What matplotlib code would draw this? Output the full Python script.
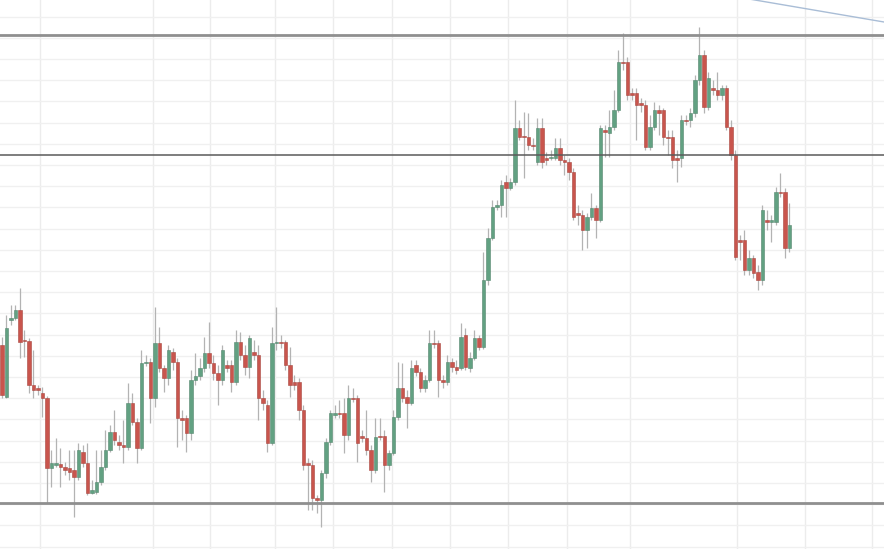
import matplotlib
matplotlib.use("Agg")
import matplotlib.pyplot as plt
import numpy as np

# candle data (price units)
opens = [205, 153, 230, 232, 240, 210, 209, 165, 162, 157, 152, 82, 85, 86, 83, 82, 80, 73, 98, 87,
         57, 58, 68, 83, 100, 118, 108, 105, 103, 147, 128, 102, 187, 188, 152, 207, 182, 172, 198, 188,
         132, 132, 117, 170, 174, 182, 197, 187, 177, 170, 185, 185, 168, 208, 195, 183, 198, 195, 152, 145,
         107, 207, 208, 208, 185, 168, 168, 140, 87, 85, 52, 50, 77, 108, 135, 137, 137, 115, 152, 152,
         114, 112, 100, 80, 114, 114, 85, 97, 133, 162, 153, 147, 185, 178, 162, 170, 207, 207, 170, 168,
         188, 183, 182, 215, 182, 192, 212, 203, 270, 312, 343, 345, 368, 362, 368, 422, 414, 413, 405, 388,
         422, 392, 392, 392, 402, 390, 388, 378, 337, 335, 320, 333, 342, 330, 420, 417, 423, 440, 488, 488,
         457, 457, 447, 445, 403, 423, 440, 440, 413, 413, 392, 392, 430, 430, 437, 470, 495, 443, 462, 460,
         455, 462, 423, 395, 310, 310, 280, 292, 278, 270, 330, 328, 328, 358, 358, 302]
highs = [213, 235, 245, 245, 262, 220, 212, 200, 165, 163, 154, 100, 112, 102, 88, 100, 100, 107, 105, 107,
         70, 100, 100, 120, 125, 140, 115, 130, 167, 157, 132, 200, 195, 192, 243, 223, 185, 205, 202, 192,
         140, 135, 180, 197, 192, 213, 228, 195, 185, 205, 190, 190, 220, 218, 205, 215, 210, 205, 160, 150,
         223, 243, 215, 210, 203, 175, 172, 145, 92, 90, 55, 80, 112, 140, 145, 150, 152, 165, 162, 155,
         120, 140, 105, 132, 132, 120, 100, 140, 188, 187, 160, 190, 190, 182, 175, 220, 220, 210, 175, 195,
         192, 190, 227, 222, 198, 220, 215, 298, 322, 350, 350, 370, 375, 372, 450, 430, 438, 437, 412, 432,
         432, 398, 400, 412, 412, 395, 392, 382, 345, 340, 337, 357, 345, 425, 425, 440, 460, 500, 517, 493,
         462, 462, 452, 450, 435, 448, 445, 442, 420, 420, 400, 435, 435, 442, 475, 523, 500, 478, 470, 478,
         465, 465, 430, 400, 315, 320, 300, 295, 285, 345, 340, 335, 363, 377, 362, 347]
lows = [152, 152, 225, 230, 192, 193, 157, 152, 155, 133, 47, 63, 83, 63, 75, 70, 33, 70, 83, 55,
        56, 56, 65, 80, 98, 105, 100, 87, 100, 125, 87, 100, 184, 127, 143, 178, 158, 165, 180, 103,
        110, 98, 110, 165, 170, 178, 182, 170, 145, 165, 178, 158, 165, 190, 175, 172, 190, 130, 140, 98,
        105, 200, 202, 180, 153, 160, 130, 80, 40, 40, 37, 23, 72, 105, 132, 132, 97, 110, 148, 88,
        108, 95, 68, 77, 110, 58, 80, 95, 130, 148, 122, 145, 174, 158, 158, 168, 202, 153, 162, 165,
        178, 176, 180, 180, 178, 190, 200, 201, 265, 310, 340, 333, 333, 360, 365, 410, 372, 400, 400, 385,
        382, 385, 390, 390, 385, 375, 370, 330, 325, 300, 302, 330, 312, 328, 393, 393, 420, 438, 480, 450,
        450, 410, 438, 400, 400, 420, 415, 405, 395, 382, 368, 383, 425, 423, 433, 465, 437, 440, 455, 450,
        450, 420, 390, 290, 290, 275, 275, 272, 260, 265, 320, 308, 325, 353, 292, 298]
closes = [155, 222, 232, 240, 208, 209, 165, 160, 160, 152, 82, 87, 87, 83, 80, 78, 73, 100, 87, 57,
          60, 68, 83, 100, 118, 110, 105, 103, 147, 128, 102, 187, 188, 152, 207, 182, 172, 200, 188, 132,
          130, 117, 170, 174, 182, 197, 187, 177, 170, 200, 182, 168, 208, 195, 183, 212, 195, 152, 147, 107,
          207, 208, 207, 185, 165, 165, 140, 85, 85, 52, 50, 77, 108, 137, 137, 136, 115, 152, 151, 107,
          112, 100, 80, 113, 113, 85, 97, 133, 162, 152, 147, 182, 178, 162, 170, 207, 206, 170, 168, 188,
          183, 180, 213, 183, 192, 212, 203, 270, 312, 343, 345, 365, 362, 368, 422, 413, 413, 405, 404, 422,
          388, 390, 393, 402, 390, 388, 378, 333, 335, 320, 333, 342, 330, 422, 418, 423, 440, 488, 487, 455,
          455, 445, 445, 403, 423, 440, 437, 413, 412, 390, 390, 430, 429, 437, 470, 495, 443, 472, 460, 455,
          462, 423, 395, 293, 308, 280, 292, 277, 270, 340, 328, 330, 358, 357, 302, 325]

# horizontal levels, trend line and date grid positions
levels = [515, 395, 47]
level_colors = ["#8f8f8f", "#5a5a5a", "#8f8f8f"]
level_widths = [2.0, 1.1, 2.0]
trend_x = [166, 196]
trend_y = [551, 528]
date_grid = [8.4, 33.6, 46.2, 60.7, 73.6, 86.7, 99.6, 112.4, 125.6, 139.6, 163.3, 178.4, 193.3]

green = "#62a182"
red = "#c9554d"

fig = plt.figure(figsize=(8.84, 5.49), dpi=100)
ax = fig.add_axes([0, 0, 1, 1])
ax.set_facecolor("white")

# grid
for gx in date_grid:
    ax.axvline(gx, color="#ececec", lw=1.0, zorder=0)
for gy in np.arange(67 - 21.2 * 3, 560, 21.2):
    ax.axhline(gy, color="#f0f0f0", lw=1.0, zorder=0)

idx = np.arange(len(opens))
o = np.array(opens, dtype=float)
c = np.array(closes, dtype=float)
h = np.array(highs, dtype=float)
l = np.array(lows, dtype=float)
up = c >= o
cols = np.where(up, green, red)
edges = np.where(up, "#55866e", "#a84740")

ax.vlines(idx, l, h, color="#b3b3b3", lw=0.9, zorder=2)
body_lo = np.minimum(o, c)
body_h = np.maximum(np.abs(c - o), 1.2)
ax.bar(idx, body_h, bottom=body_lo, width=0.75, color=cols, edgecolor=edges,
       linewidth=0.4, zorder=3)

for lv, lc, lw in zip(levels, level_colors, level_widths):
    ax.axhline(lv, color=lc, lw=lw, zorder=4)

ax.plot(trend_x, trend_y, color="#a9bdd6", lw=1.0, zorder=4)

ax.set_xlim(-0.44, 196)
ax.set_ylim(1, 550)
ax.set_xticks([])
ax.set_yticks([])
for s in ax.spines.values():
    s.set_visible(False)

fig.savefig("out.png", dpi=100)
